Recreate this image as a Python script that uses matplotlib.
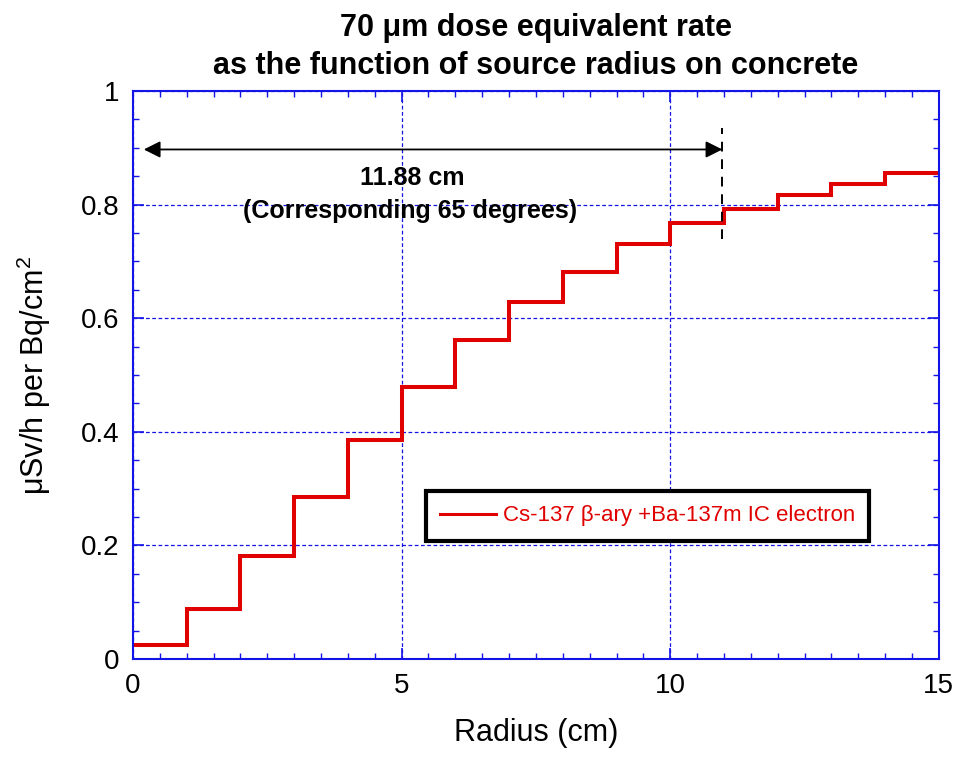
import matplotlib.pyplot as plt
from matplotlib.ticker import MultipleLocator, FormatStrFormatter
import numpy as np

plt.rcParams['font.family'] = ['Liberation Sans', 'DejaVu Sans']
plt.rcParams['mathtext.fontset'] = 'custom'
plt.rcParams['mathtext.rm'] = 'Liberation Sans'

# step edges (cm) and dose rate per ring
radius_edges = np.arange(0, 16, 1)
dose_rate = [0.025, 0.088, 0.181, 0.285, 0.386, 0.479, 0.562, 0.629,
             0.681, 0.731, 0.767, 0.792, 0.816, 0.837, 0.856]
series_label = "Cs-137 β-ary +Ba-137m IC electron"

# marker for the 65 degree radius
arrow_start = 0.2
arrow_end = 10.97
arrow_y = 0.897
cut_line = [0.74, 0.935]

blue = '#1414e6'
red = '#e00000'

fig = plt.figure(figsize=(9.59, 7.58), dpi=100)
ax = fig.add_axes([0.1387, 0.1306, 0.8403, 0.7494])

ax.stairs(dose_rate, radius_edges, color=red, linewidth=2.9, label=series_label,
          baseline=None)

ax.set_xlim(0, 15)
ax.set_ylim(0, 1)
ax.xaxis.set_major_locator(MultipleLocator(5))
ax.xaxis.set_minor_locator(MultipleLocator(0.5))
ax.yaxis.set_major_locator(MultipleLocator(0.2))
ax.yaxis.set_minor_locator(MultipleLocator(0.05))
ax.yaxis.set_major_formatter(FormatStrFormatter('%g'))

ax.grid(True, which='major', color=blue, linestyle=(0, (3, 2)), linewidth=0.9)
ax.set_axisbelow(True)

for s in ax.spines.values():
    s.set_color(blue)
    s.set_linewidth(1.5)
ax.tick_params(which='both', direction='in', top=True, right=True, color=blue,
               labelsize=20, labelcolor='black')
ax.tick_params(which='major', length=8, width=1.2, pad=10)
ax.tick_params(which='minor', length=4, width=1.0)

# horizontal extent arrow and dashed cut line
ax.annotate('', xy=(arrow_end, arrow_y), xytext=(arrow_start, arrow_y),
            arrowprops=dict(arrowstyle='<|-|>', color='black', lw=1.3,
                            mutation_scale=25, shrinkA=0, shrinkB=0))
ax.plot([arrow_end, arrow_end], cut_line, color='black', linestyle=(0, (5, 4)),
        linewidth=1.4)
ax.text(5.2, 0.847, '11.88 cm', ha='center', va='center', fontsize=18,
        fontweight='bold')
ax.text(5.15, 0.789, '(Corresponding 65 degrees)', ha='center', va='center',
        fontsize=18, fontweight='bold')

leg = ax.legend(loc='center', bbox_to_anchor=(0.6385, 0.252), fontsize=16,
                labelcolor=red, fancybox=False, framealpha=1,
                handlelength=2.5, handletextpad=0.3, borderpad=0.65)
leg.get_frame().set_edgecolor('black')
leg.get_frame().set_linewidth(3)
leg.get_lines()[0].set_linewidth(2.2)

ax.set_title('70 μm dose equivalent rate\nas the function of source radius on concrete',
             fontsize=22, fontweight='bold', pad=12, linespacing=1.35)
ax.set_xlabel('Radius (cm)', fontsize=22, labelpad=14)
ax.set_ylabel('μSv/h per Bq/cm$^2$', fontsize=22, labelpad=20)

plt.savefig('out.png', dpi=100)
plt.close()
